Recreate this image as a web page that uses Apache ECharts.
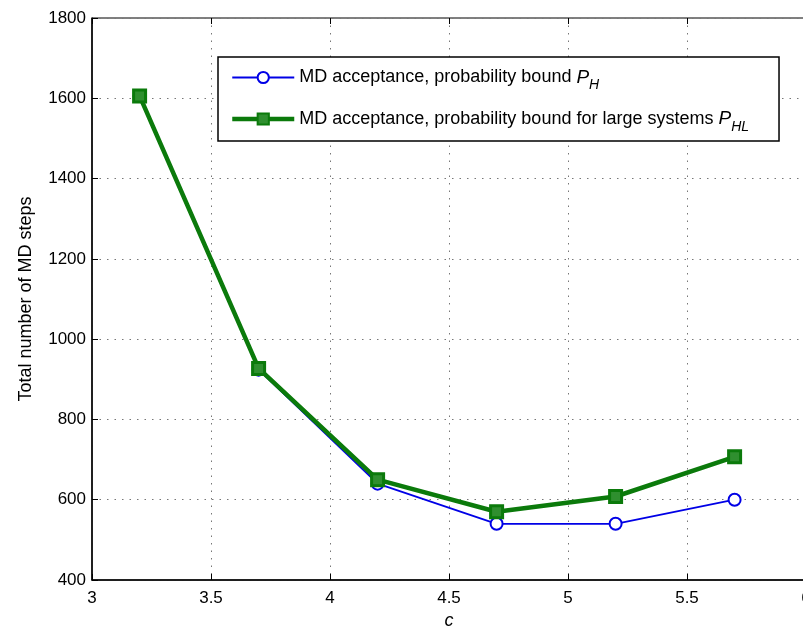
<!DOCTYPE html>
<html>
<head>
<meta charset="utf-8">
<script src="https://cdn.jsdelivr.net/npm/echarts@6/dist/echarts.min.js"></script>
<style>
  html, body { margin: 0; padding: 0; background: #fff; }
  #chart { width: 803px; height: 626px; }
</style>
</head>
<body>
<div id="chart"></div>
<script>
// values
const cValues = [3.2, 3.7, 4.2, 4.7, 5.2, 5.7]
const boundPH = [1606, 924, 640, 540, 540, 600]
const boundPHL = [1606, 927, 650, 570, 608, 707]
const legendNames = [
  'MD acceptance, probability bound',
  'MD acceptance, probability bound for large systems'
]
const legendSubs = ['H', 'HL']

const font = 'Liberation Sans, Arial, sans-serif'

const chart = echarts.init(document.getElementById('chart'))

const pairs = arr => cValues.map((c, i) => [c, arr[i]])

const gridDots = { color: '#777', type: [1.5, 6], width: 1 }

const options = {
  animation: false,
  textStyle: { fontFamily: font },
  grid: {
    left: 92,
    top: 18,
    right: -3,
    bottom: 46,
    outerBoundsMode: 'none',
    containLabel: false,
    show: true,
    borderColor: '#000',
    borderWidth: 1
  },
  legend: {
    orient: 'vertical',
    left: 218,
    top: 57,
    width: 561,
    padding: [11, 30, 7, 12],
    itemGap: 17,
    itemWidth: 62,
    itemHeight: 14,
    backgroundColor: '#fff',
    borderColor: '#000',
    borderWidth: 1.5,
    lineStyle: { width: 'inherit' },
    textStyle: {
      fontSize: 18,
      color: '#000',
      fontFamily: font,
      rich: {
        p: { fontSize: 19, fontStyle: 'italic', color: '#000', fontFamily: font },
        sub: { fontSize: 14, fontStyle: 'italic', color: '#000', fontFamily: font, padding: [16, 0, 0, 0] }
      }
    },
    formatter: name => {
      const i = legendNames.indexOf(name)
      return name + ' {p|P}{sub|' + legendSubs[i] + '}'
    },
    data: legendNames
  },
  xAxis: [
    {
      type: 'value',
      min: 3,
      max: 6,
      interval: 0.5,
      name: 'c',
      nameLocation: 'middle',
      nameGap: 30,
      nameTextStyle: { fontSize: 18, fontStyle: 'italic', color: '#000' },
      axisLine: { lineStyle: { color: '#000', width: 1.5 } },
      axisTick: { inside: true, length: 6, lineStyle: { color: '#000' } },
      axisLabel: { fontSize: 17, color: '#000', margin: 10 },
      splitLine: { show: true, lineStyle: gridDots }
    },
    {
      type: 'value',
      position: 'top',
      min: 3,
      max: 6,
      interval: 0.5,
      axisLine: { show: false },
      axisTick: { inside: true, length: 6, lineStyle: { color: '#000' } },
      axisLabel: { show: false },
      splitLine: { show: false }
    }
  ],
  yAxis: {
    type: 'value',
    min: 400,
    max: 1800,
    interval: 200,
    name: 'Total number of MD steps',
    nameLocation: 'middle',
    nameGap: 57,
    nameTextStyle: { fontSize: 18, color: '#000' },
    axisLine: { show: true, lineStyle: { color: '#000', width: 1.5 } },
    axisTick: { show: true, inside: true, length: 6, lineStyle: { color: '#000' } },
    axisLabel: { fontSize: 17, color: '#000', margin: 6, formatter: v => String(v) },
    splitLine: { show: true, lineStyle: gridDots }
  },
  series: [
    {
      name: legendNames[0],
      type: 'line',
      data: pairs(boundPH),
      symbol: 'emptyCircle',
      symbolSize: 12,
      lineStyle: { color: '#0000e6', width: 1.8 },
      itemStyle: { color: '#0000e6', borderColor: '#0000e6', borderWidth: 2 },
      z: 2
    },
    {
      name: legendNames[1],
      type: 'line',
      data: pairs(boundPHL),
      symbol: 'rect',
      symbolSize: 12,
      lineStyle: { color: '#0b7a0b', width: 4.5 },
      itemStyle: { color: '#2f8f2f', borderColor: '#0b7a0b', borderWidth: 3 },
      z: 3
    }
  ]
}

chart.setOption(options)
</script>
</body>
</html>
